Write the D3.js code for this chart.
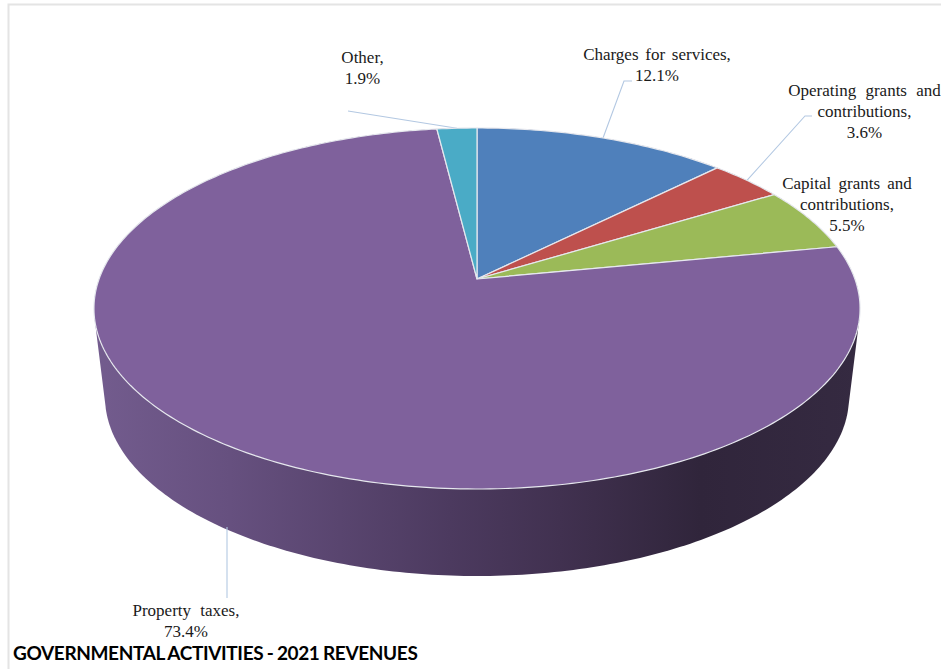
<!DOCTYPE html>
<html>
<head>
<meta charset="utf-8">
<script src="https://cdn.jsdelivr.net/npm/d3@7/dist/d3.min.js"></script>
<style>
  html, body { margin: 0; padding: 0; background: #fff; }
  svg { display: block; }
</style>
</head>
<body>
<script>
// Revenue sources, percent of governmental activities revenue
const categories = ["Charges for services", "Operating grants and contributions", "Capital grants and contributions", "Property taxes", "Other"];
const shares = [12.1, 3.6, 5.5, 73.4, 1.9];
const sliceColors = ["#4f80bb", "#be504d", "#9bba58", "#7f619c", "#4aabc6"];
const chartTitle = "GOVERNMENTAL ACTIVITIES - 2021 REVENUES";

// Label wording, broken the way each label wraps
const labelLines = [
  ["Charges for services,", "12.1%"],
  ["Operating grants and", "contributions,", "3.6%"],
  ["Capital grants and", "contributions,", "5.5%"],
  ["Property taxes,", "73.4%"],
  ["Other,", "1.9%"]
];
const labelCenters = [[657, 60], [864.5, 96], [847, 189], [186, 616], [362.5, 63]];
const labelWordSpacing = [2.5, 5, 3, 5, 0];
// Leader line bends; null means the label sits against its slice
const leaderElbows = [
  [[624, 81], [632, 81]],
  [[805, 116], [812, 116]],
  null,
  [[227, 598]],
  [[348, 111]]
];

const width = 941, height = 669;

// Tilted disc: a unit circle seen in perspective. Apex is the projected centre.
const apex = [477, 279];
const persp = { a: 377.9, b: 175.7, k: 0.1634 };
const project = (angle) => {
  const X = Math.sin(angle), Y = -Math.cos(angle);
  const d = 1 - persp.k * Y;
  return [apex[0] + persp.a * X / d, apex[1] + persp.b * Y / d];
};

// Rim ellipses: top face and the narrower lower face
const topRim = { cx: 477, cy: 308.5, rx: 383, ry: 180.5 };
const lowRim = { cx: 477, cy: 397, rx: 372, ry: 179 };
const ringPoints = (e) => d3.range(0, 360).map(i => {
  const t = i * Math.PI / 180;
  return [e.cx + e.rx * Math.cos(t), e.cy + e.ry * Math.sin(t)];
});

const svg = d3.select("body").append("svg")
  .attr("width", width).attr("height", height)
  .attr("viewBox", `0 0 ${width} ${height}`);

// Faint page frame along the top and left
svg.append("path")
  .attr("d", `M8.5,${height} V4.5 H${width}`)
  .attr("fill", "none").attr("stroke", "#e4e4e4").attr("stroke-width", 2);

// Side wall shading runs left to right
const wallStops = [
  [94, "#735c8e"], [230, "#66507f"], [450, "#4c3a5f"],
  [560, "#413150"], [700, "#30253b"], [860, "#352a41"]
];
const xGrad = d3.scaleLinear().domain([94, 860]).range([0, 1]);
const defs = svg.append("defs");
const grad = defs.append("linearGradient").attr("id", "wallShade")
  .attr("gradientUnits", "userSpaceOnUse")
  .attr("x1", 94).attr("x2", 860).attr("y1", 0).attr("y2", 0);
grad.selectAll("stop").data(wallStops).join("stop")
  .attr("offset", d => xGrad(d[0]))
  .attr("stop-color", d => d[1]);

const closedLine = d3.line().curve(d3.curveLinearClosed);

// Wall: convex hull of both rims, the top face covers its upper part
svg.append("path")
  .attr("d", closedLine(d3.polygonHull(ringPoints(topRim).concat(ringPoints(lowRim)))))
  .attr("fill", "url(#wallShade)");

// Slices go clockwise from twelve o'clock
const arcs = d3.pie().sort(null).value(d => d)(shares);

const slicePath = (d) => {
  const n = Math.max(2, Math.ceil((d.endAngle - d.startAngle) * 60));
  const rim = d3.range(n + 1).map(i => project(d.startAngle + (d.endAngle - d.startAngle) * i / n));
  return closedLine([apex, ...rim]);
};

// Leaders sit under the top face
const lineGen = d3.line();
const leaderColor = "#b3c8e2";
arcs.forEach((d, i) => {
  if (!leaderElbows[i]) return;
  const mid = (d.startAngle + d.endAngle) / 2;
  let start = project(mid);
  // The property taxes leader leaves from the wall instead of the top face
  if (categories[i] === "Property taxes") start = [leaderElbows[i][0][0], 527];
  svg.append("path")
    .attr("d", lineGen([start, ...leaderElbows[i]]))
    .attr("fill", "none").attr("stroke", leaderColor).attr("stroke-width", 1.1);
});

svg.append("g").selectAll("path").data(arcs).join("path")
  .attr("d", slicePath)
  .attr("fill", (d, i) => sliceColors[i])
  .attr("stroke", "#e6e8ee")
  .attr("stroke-width", 1.2)
  .attr("stroke-linejoin", "round");

// Category labels
const labelGroup = svg.append("g")
  .attr("font-family", "'Liberation Serif', serif")
  .attr("font-size", 17)
  .attr("fill", "#1a1a1a")
  .attr("text-anchor", "middle");
labelLines.forEach((lines, i) => {
  const [cx, y0] = labelCenters[i];
  lines.forEach((line, j) => {
    labelGroup.append("text")
      .attr("x", cx).attr("y", y0 + j * 21)
      .attr("word-spacing", labelWordSpacing[i])
      .text(line);
  });
});

// Caption along the bottom
svg.append("text")
  .attr("x", 13).attr("y", 660)
  .attr("font-family", "Lato, sans-serif")
  .attr("font-weight", 700)
  .attr("font-size", 19)
  .attr("letter-spacing", -0.36)
  .attr("word-spacing", -0.8)
  .attr("fill", "#000")
  .text(chartTitle);
</script>
</body>
</html>
